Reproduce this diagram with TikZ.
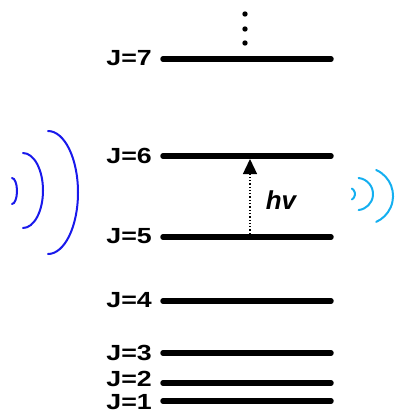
\documentclass[tikz,border=0pt]{standalone}
\usepackage{fontspec}
\setmainfont{Liberation Sans}
\usepackage{tikz}
\usetikzlibrary{arrows.meta, positioning}
\definecolor{waveblue}{RGB}{25,25,235}
\definecolor{wavecyan}{RGB}{20,175,240}
\tikzstyle{level} = [line width=5.5bp, line cap=round]
\tikzstyle{lbl} = [inner sep=0pt, anchor=east, font=\fontsize{22}{22}\selectfont\bfseries, xscale=1.22]
\tikzstyle{wave} = [line width=2bp, line cap=round]
\tikzstyle{line} = [draw, dotted, line width=1.3bp, -{Triangle[length=15bp, width=14bp]}]

\begin{document}
\begin{tikzpicture}[x=1bp, y=-1bp]
    \useasboundingbox (0,0) rectangle (397,414);
    % Levels
    \foreach \j/\y/\ty in {1/401/402, 2/383/379, 3/353/353, 4/301/300, 5/237/236, 6/156/156, 7/59/58} {
        \coordinate (a\j) at (163,\y);
        \coordinate (b\j) at (331,\y);
        \draw [level] (a\j) -- (b\j);
        \node [lbl] (l\j) at (152,\ty) {J=\j};
    }
    % Dots
    \foreach \y in {14,29,43}
        \fill (245,\y) circle (2.7bp);
    % Transition
    \coordinate (lo) at (250,234);
    \coordinate (hi) at (250,159);
    \path [line] (lo) -- (hi);
    \node [font=\fontsize{26}{26}\selectfont\bfseries\itshape] (hv) at (281,200) {hv};
    % Waves
    \draw [wave, waveblue] (12,178) arc [start angle=-90, end angle=90, x radius=5, y radius=13];
    \draw [wave, waveblue] (23,153) arc [start angle=-90, end angle=90, x radius=20, y radius=37.5];
    \draw [wave, waveblue] (48,131) arc [start angle=-90, end angle=90, x radius=30, y radius=61.5];
    \draw [wave, wavecyan] (351.9,188.5) arc [start angle=-58, end angle=58, radius=6.5];
    \draw [wave, wavecyan] (358.6,178) arc [start angle=-84, end angle=84, radius=16.1];
    \draw [wave, wavecyan] (376.2,170) arc [start angle=-66, end angle=66, radius=28.4];
\end{tikzpicture}
\end{document}
